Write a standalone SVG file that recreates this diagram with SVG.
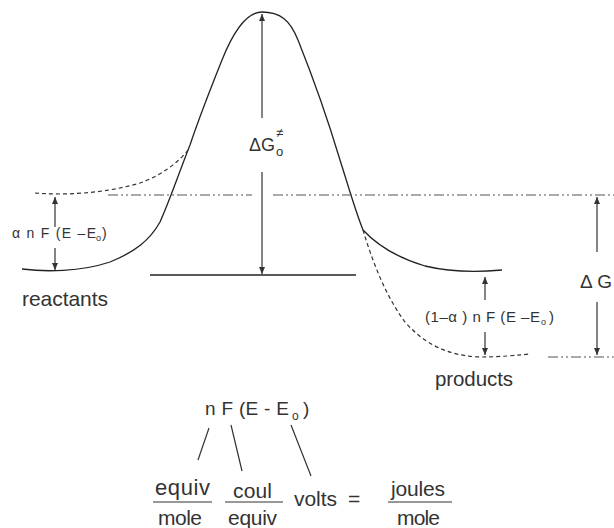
<svg xmlns="http://www.w3.org/2000/svg" width="614" height="528" viewBox="0 0 614 528">
<defs>
<style>
.t{font-family:"Liberation Sans",Arial,sans-serif;fill:#333}
.c{fill:none;stroke:#222;stroke-width:1.3}
.d{fill:none;stroke:#333;stroke-width:1.2;stroke-dasharray:4 3}
.dd{fill:none;stroke:#555;stroke-width:1.2;stroke-dasharray:10 3 2 3 2 3}
.a{fill:none;stroke:#333;stroke-width:1.2}
.f{stroke:#333;stroke-width:1.2}
</style>
<marker id="ah" markerUnits="userSpaceOnUse" markerWidth="8" markerHeight="8" refX="7" refY="4" orient="auto">
<path d="M0,1 L7,4 L0,7 Z" fill="#333"/>
</marker>
</defs>
<rect width="614" height="528" fill="#fff"/>
<g id="curves">
<path class="c" d="M22,269 C45,272 80,272 110,262 C135,252 150,240 160,222 C170,200 180,170 190,145 C200,115 212,85 222,60 C232,35 245,12 262,12 C280,12 290,20 298,40 C310,70 325,110 340,160 C348,185 355,210 363,230 C375,243 395,257 425,266 C450,272 480,272 502,270"/>
<path class="d" d="M35,193 C70,196 110,192 140,183 C160,176 178,163 188,150"/>
<path class="d" d="M363,230 C372,260 385,295 405,322 C425,345 450,356 480,357 C500,357 520,355 530,354"/>
<path class="dd" d="M108,195 H252 M273,195 H614"/>
<path class="dd" d="M548,357 H614"/>
<path class="c" d="M150,275 H356"/>
</g>
<g id="connectors">
<path class="a" d="M262,118 V14" marker-end="url(#ah)"/>
<path class="a" d="M262,172 V274" marker-end="url(#ah)"/>
<path class="a" d="M55,227 V197" marker-end="url(#ah)"/>
<path class="a" d="M55,248 V270" marker-end="url(#ah)"/>
<path class="a" d="M485,300 V277" marker-end="url(#ah)"/>
<path class="a" d="M485,332 V355" marker-end="url(#ah)"/>
<path class="a" d="M597,252 V197" marker-end="url(#ah)"/>
<path class="a" d="M597,302 V355" marker-end="url(#ah)"/>
<path class="a" d="M209,428 L198,460 M231,425 L242,471 M291,425 L311,476"/>
<path class="f" d="M153,502 H212 M225,502 H283 M388,502 H452"/>
</g>
<g id="label-dG-act">
<text class="t" x="249" y="151" font-size="19" textLength="26" lengthAdjust="spacingAndGlyphs">ΔG</text>
<text class="t" x="276" y="137" font-size="13">≠</text>
<text class="t" x="276" y="156" font-size="13">o</text>
</g>
<g id="label-alpha">
<text class="t" x="12" y="238" font-size="14" textLength="84">α n F (E –E</text>
<text class="t" x="96" y="241" font-size="9">o</text>
<text class="t" x="102" y="238" font-size="14">)</text>
</g>
<g id="label-1alpha">
<text class="t" x="425" y="322" font-size="15" textLength="115">(1–α ) n F (E –E</text>
<text class="t" x="541" y="325" font-size="9">o</text>
<text class="t" x="549" y="322" font-size="15">)</text>
</g>
<g id="label-dG">
<text class="t" x="580" y="288" font-size="19" textLength="32">Δ G</text>
</g>
<g id="reactants">
<text class="t" x="22" y="306" font-size="21" textLength="86">reactants</text>
</g>
<g id="products">
<text class="t" x="435" y="386" font-size="20.5" textLength="78">products</text>
</g>
<g id="formula">
<text class="t" x="205" y="415" font-size="19" textLength="84">n F (E - E</text>
<text class="t" x="292" y="420" font-size="12">o</text>
<text class="t" x="303" y="415" font-size="19">)</text>
</g>
<g id="units">
<text class="t" x="155" y="495" font-size="22" textLength="55">equiv</text>
<text class="t" x="158" y="525" font-size="21" textLength="44">mole</text>
<text class="t" x="233" y="498" font-size="21" textLength="39">coul</text>
<text class="t" x="228" y="525" font-size="21" textLength="49">equiv</text>
<text class="t" x="294" y="506" font-size="21" textLength="43">volts</text>
<text class="t" x="348" y="506" font-size="21">=</text>
<text class="t" x="391" y="496" font-size="21" textLength="54">joules</text>
<text class="t" x="397" y="525" font-size="21" textLength="43">mole</text>
</g>
</svg>
